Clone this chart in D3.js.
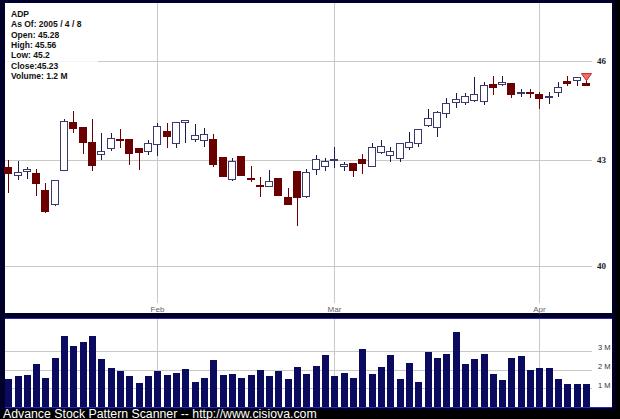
<!DOCTYPE html>
<html><head><meta charset="utf-8">
<script src="https://cdn.jsdelivr.net/npm/d3@7"></script>
<style>html,body{margin:0;padding:0;background:#000;}svg{display:block}</style>
</head><body>
<svg id="c" width="620" height="419"></svg>
<script>
const dates = ["2005-01-07","2005-01-10","2005-01-11","2005-01-12","2005-01-13","2005-01-14","2005-01-18","2005-01-19","2005-01-20","2005-01-21","2005-01-24","2005-01-25","2005-01-26","2005-01-27","2005-01-28","2005-01-31",
"2005-02-01","2005-02-02","2005-02-03","2005-02-04","2005-02-07","2005-02-08","2005-02-09","2005-02-10","2005-02-11","2005-02-14","2005-02-15","2005-02-16","2005-02-17","2005-02-18","2005-02-22","2005-02-23","2005-02-24","2005-02-25","2005-02-28",
"2005-03-01","2005-03-02","2005-03-03","2005-03-04","2005-03-07","2005-03-08","2005-03-09","2005-03-10","2005-03-11","2005-03-14","2005-03-15","2005-03-16","2005-03-17","2005-03-18","2005-03-21","2005-03-22","2005-03-23","2005-03-24","2005-03-28","2005-03-29","2005-03-30","2005-03-31",
"2005-04-01","2005-04-04","2005-04-05","2005-04-06","2005-04-07","2005-04-08"];
const open  = [42.77,42.52,42.64,42.58,42.11,41.69,42.69,44.10,43.94,43.50,43.15,43.32,43.60,43.59,43.33,43.25,
43.43,43.82,43.46,44.09,43.60,43.55,43.58,43.05,42.42,43.09,42.45,42.26,42.22,42.44,41.91,42.66,41.92,42.71,42.79,
42.96,42.79,42.87,42.99,42.79,43.21,43.11,43.04,43.36,43.48,44.00,43.95,44.38,44.71,44.71,44.75,44.73,45.26,45.26,45.27,45.01,45.01,
44.95,44.86,45.01,45.34,45.37,45.28];
const high  = [42.99,42.96,42.79,42.72,42.31,42.40,44.19,44.45,43.96,44.20,43.79,43.79,43.89,43.61,43.35,43.58,
44.07,44.07,44.12,44.18,44.04,43.94,43.75,43.08,43.04,43.10,42.81,42.50,42.69,42.46,42.16,42.67,42.71,43.13,43.05,
43.36,42.94,42.88,43.16,43.48,43.58,43.38,43.49,43.82,43.90,44.50,44.45,44.83,44.98,45.00,45.50,45.34,45.52,45.52,45.28,45.11,45.11,
45.03,45.03,45.34,45.52,45.49,45.56];
const low   = [42.02,42.40,42.42,41.95,41.47,41.67,42.67,43.77,43.16,42.67,42.99,43.25,43.33,42.84,42.69,43.13,
43.10,43.33,43.33,43.48,43.53,43.38,42.77,42.48,42.38,42.52,42.36,41.92,42.20,41.94,41.70,41.10,41.90,42.55,42.66,
42.74,42.66,42.50,42.58,42.78,43.16,42.94,42.94,43.28,43.38,43.97,43.66,44.22,44.55,44.63,44.71,44.63,44.93,45.22,44.85,44.88,44.85,
44.50,44.66,44.88,45.22,45.22,45.20];
const close = [42.60,42.63,42.71,42.31,41.50,42.38,44.14,43.91,43.51,42.82,43.25,43.63,43.55,43.17,43.20,43.48,
43.99,43.67,44.10,44.17,43.72,43.75,42.84,42.50,42.94,42.53,42.41,42.21,42.37,41.95,41.71,41.91,42.63,42.99,42.94,
43.01,42.86,42.67,42.87,43.35,43.38,43.25,43.48,43.51,43.89,44.22,44.41,44.67,44.78,44.88,44.96,45.21,45.17,45.33,44.96,45.01,44.97,
44.83,44.90,45.17,45.27,45.48,45.23];
const volume = [1.49,1.66,1.70,2.32,1.53,2.61,3.79,3.28,3.46,3.79,2.54,2.06,1.93,1.66,1.26,1.66,
1.93,1.70,1.82,2.01,1.33,1.56,2.50,1.70,1.76,1.56,1.69,1.98,1.65,1.91,1.49,2.13,1.76,2.20,2.77,
1.65,1.79,1.53,3.07,1.76,2.16,2.80,1.49,2.34,1.33,2.91,2.64,2.82,4.01,2.27,2.54,2.82,1.76,1.44,2.64,2.70,1.98,
2.07,2.06,1.51,1.22,1.22,1.24];
const priceTicks = [40, 43, 46];
const volTicks = [1, 2, 3];
const volTickLabels = ["1 M", "2 M", "3 M"];
const monthDates = ["2005-02-01", "2005-03-01", "2005-04-01"];
const monthLabels = ["Feb", "Mar", "Apr"];
const infoLines = ["ADP", "As Of: 2005 / 4 / 8", "Open: 45.28", "High: 45.56", "Low: 45.2", "Close:45.23", "Volume: 1.2 M"];
const footer = "Advance Stock Pattern Scanner -- http://www.cisiova.com";
const signalIndex = 62;

const svg = d3.select("#c");
const data = dates.map((d, i) => ({d, o: open[i], h: high[i], l: low[i], c: close[i], v: volume[i]}));

const x = d3.scaleBand().domain(dates).range([3.54, 590.7]).paddingInner(0).paddingOuter(0);
const cx = d => Math.round(x(d) + x.bandwidth() / 2);
const y = d3.scaleLog().domain([40, 46]).range([265.7, 60.5]);
const yv = d3.scaleLinear().domain([0, 4.8]).range([407, 317]);

// backgrounds
svg.append("rect").attr("width", 620).attr("height", 419).attr("fill", "#000");
svg.append("rect").attr("x", 0).attr("y", 0).attr("width", 615).attr("height", 410).attr("fill", "#00002a");
svg.append("rect").attr("x", 5).attr("y", 3).attr("width", 607).attr("height", 310).attr("fill", "#fff");
svg.append("rect").attr("x", 5).attr("y", 319).attr("width", 607).attr("height", 88).attr("fill", "#fff");
svg.append("line").attr("x1", 5).attr("x2", 612).attr("y1", 318.5).attr("y2", 318.5).attr("stroke", "#2c2ca8");
svg.append("line").attr("x1", 5).attr("x2", 612).attr("y1", 407.5).attr("y2", 407.5).attr("stroke", "#2c2ca8");

const g = svg.append("g").attr("shape-rendering", "crispEdges");
const grid = "#c8c8c8";

// price grid + labels
g.selectAll(".pg").data(priceTicks).join("line")
  .attr("x1", 5).attr("x2", 592).attr("y1", d => Math.round(y(d)) + 0.5).attr("y2", d => Math.round(y(d)) + 0.5)
  .attr("stroke", grid);
svg.selectAll(".pl").data(priceTicks).join("text")
  .attr("x", 597).attr("y", d => y(d) + 3)
  .attr("font-family", "Liberation Serif, serif").attr("font-weight", "bold").attr("font-size", 9)
  .attr("fill", "#222").text(d => d);

// month grid
monthDates.forEach((md, i) => {
  const xx = cx(md) + 0.5;
  g.append("line").attr("x1", xx).attr("x2", xx).attr("y1", 3).attr("y2", 303).attr("stroke", grid);
  g.append("line").attr("x1", xx).attr("x2", xx).attr("y1", 319).attr("y2", 407).attr("stroke", grid);
  svg.append("text").attr("x", xx).attr("y", 312).attr("text-anchor", "middle")
    .attr("font-family", "Liberation Sans, Arial, sans-serif").attr("font-size", 8)
    .attr("fill", "#666").text(monthLabels[i]);
});

// volume grid + labels
g.selectAll(".vg").data(volTicks).join("line")
  .attr("x1", 5).attr("x2", 592).attr("y1", d => Math.round(yv(d)) + 0.5).attr("y2", d => Math.round(yv(d)) + 0.5)
  .attr("stroke", grid);
svg.selectAll(".vl").data(volTicks).join("text")
  .attr("x", 598).attr("y", d => yv(d) - 0.5)
  .attr("font-family", "Liberation Sans, Arial, sans-serif").attr("font-size", 7.5)
  .attr("fill", "#333").text((d, i) => volTickLabels[i]);

// volume bars
g.selectAll(".vb").data(data).join("rect")
  .attr("x", d => cx(d.d) - 3.5).attr("width", 7.5)
  .attr("y", d => yv(d.v)).attr("height", d => yv(0) - yv(d.v))
  .attr("fill", "#0a0a5e");

// candles
const upC = "#3a3a6e", dnC = "#6b0000";
g.selectAll(".wk").data(data).join("line")
  .attr("x1", d => cx(d.d) + 0.5).attr("x2", d => cx(d.d) + 0.5)
  .attr("y1", d => y(d.h)).attr("y2", d => y(d.l))
  .attr("stroke", d => d.c >= d.o ? "#1a1a4a" : dnC);
g.selectAll(".bd").data(data).join("rect")
  .attr("x", d => cx(d.d) - 3.5).attr("width", 7)
  .attr("y", d => y(Math.max(d.o, d.c)))
  .attr("height", d => Math.max(1, y(Math.min(d.o, d.c)) - y(Math.max(d.o, d.c))))
  .attr("fill", d => d.c >= d.o ? "#fff" : dnC)
  .attr("stroke", d => d.c >= d.o ? upC : dnC);

// signal marker
const sd = data[signalIndex];
const sx = cx(sd.d) + 0.5, sy = y(sd.h) - 1;
svg.append("path")
  .attr("d", `M${sx - 5},${sy} L${sx + 5},${sy} L${sx},${sy + 7} Z`)
  .attr("fill", "#f07070").attr("stroke", "#d02020").attr("stroke-width", 1);

// info box
svg.append("rect").attr("x", 5).attr("y", 3).attr("width", 93).attr("height", 80)
  .attr("fill", "#fff").attr("opacity", 0.8);
svg.selectAll(".info").data(infoLines).join("text")
  .attr("x", 11).attr("y", (d, i) => 17 + i * 10.3)
  .attr("font-family", "Liberation Sans, Arial, sans-serif").attr("font-weight", "bold").attr("font-size", 8.5)
  .attr("fill", "#111").text(d => d);

// footer
svg.append("text").attr("x", 3).attr("y", 417.5)
  .attr("font-family", "Liberation Sans, Arial, sans-serif").attr("font-size", 12.3)
  .attr("fill", "#fff").text(footer);
</script>
</body></html>
